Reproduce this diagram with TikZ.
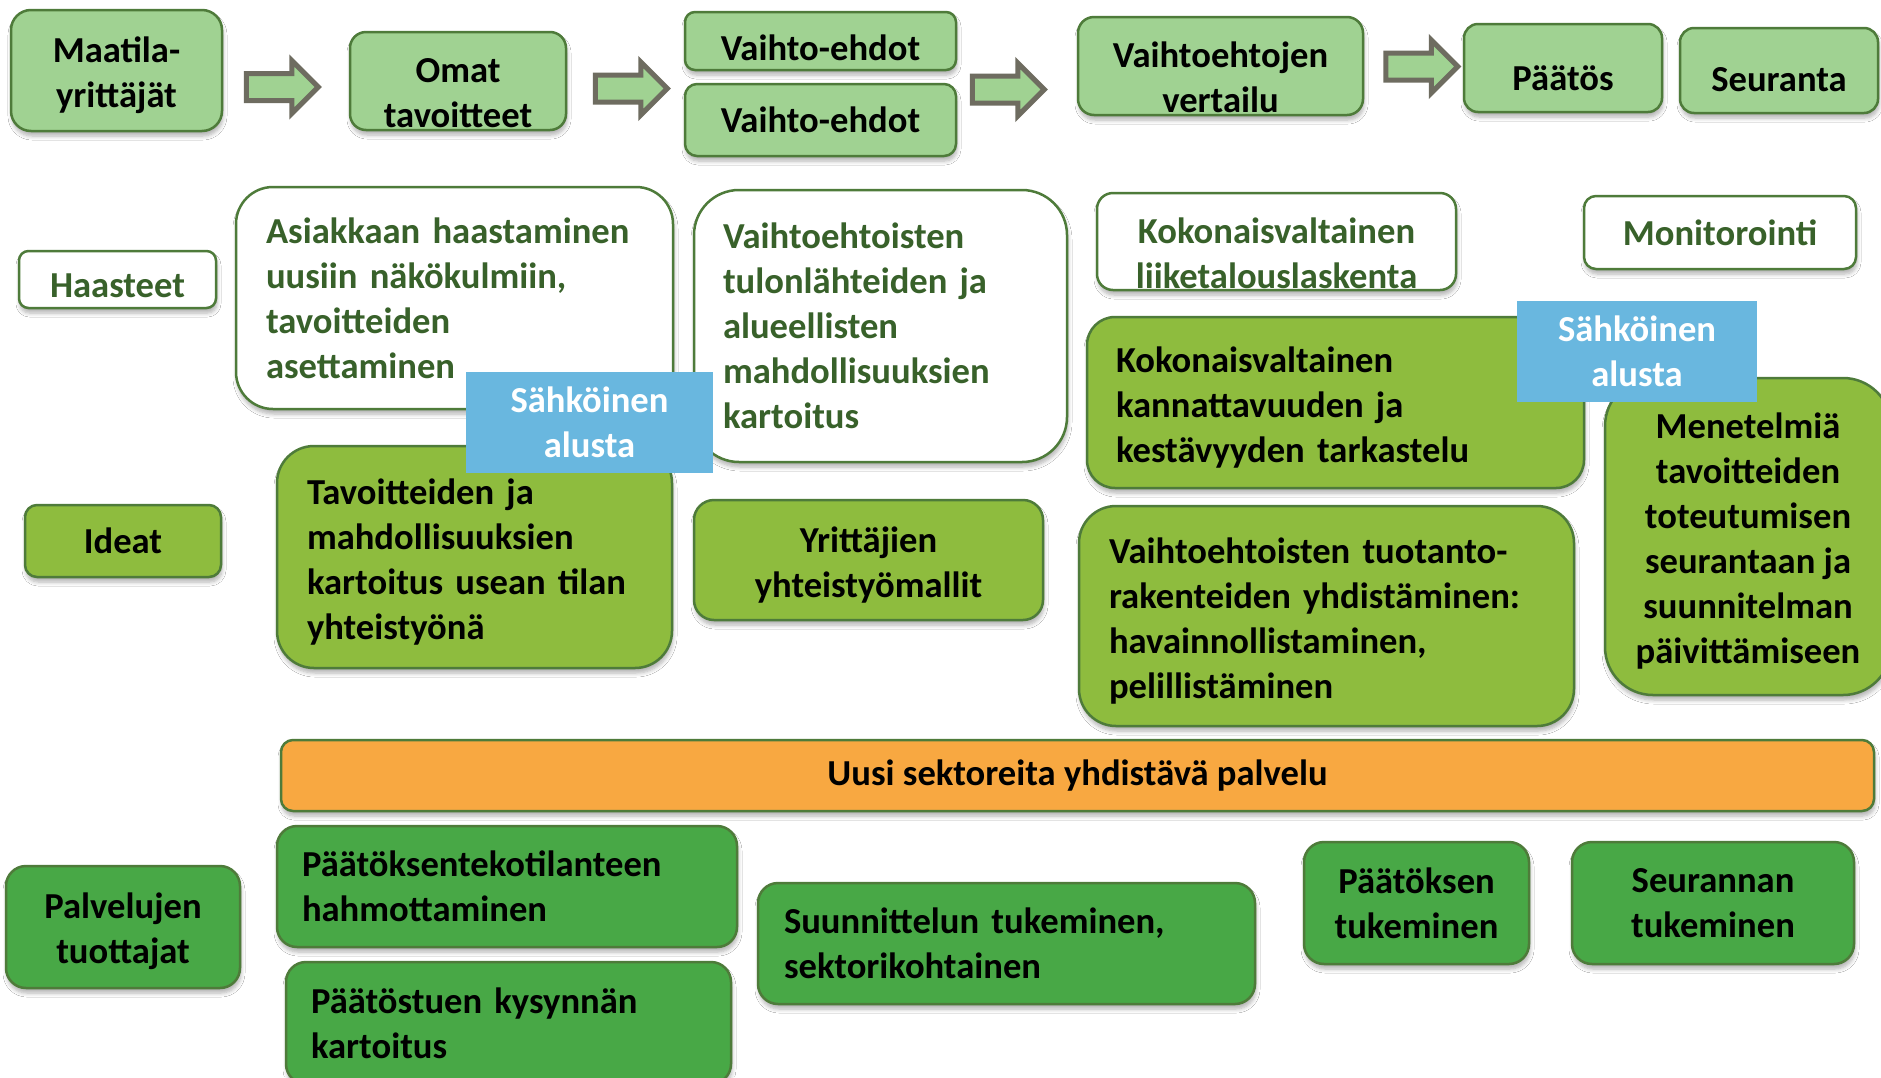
\documentclass[tikz,border=0pt]{standalone}
\usepackage{fontspec}
\setmainfont{Carlito}
\usetikzlibrary{shapes.arrows,shadows.blur}
\definecolor{lgfill}{HTML}{A0D292}
\definecolor{bord}{HTML}{4E7B3A}
\definecolor{olive}{HTML}{8EBC3E}
\definecolor{midg}{HTML}{48A846}
\definecolor{orng}{HTML}{F8A841}
\definecolor{blu}{HTML}{69B7DF}
\definecolor{dgtext}{HTML}{38612A}
\definecolor{arrbord}{HTML}{6E6C60}
\newcommand{\dn}{\rule{0pt}{35pt}}
\tikzset{
  box/.style={draw=bord, line width=2.5pt, inner sep=0pt,
    blur shadow={shadow xshift=1pt, shadow yshift=-5pt, shadow blur radius=4pt, shadow blur steps=6, shadow opacity=30}},
  lgbox/.style={box, fill=lgfill, text=black, align=center},
  wbox/.style={box, fill=white, text=dgtext},
  obox/.style={box, fill=olive, text=black},
  mbox/.style={box, fill=midg, text=black},
  lft/.style={align=left, text width=#1},
  ctr/.style={align=center},
  sbox/.style={fill=blu, text=white, align=center, inner sep=0pt},
  barrow/.style={single arrow, draw=arrbord, fill=lgfill, line width=5pt,
    inner sep=11pt, single arrow head extend=13pt, minimum height=72pt, line join=miter},
  shiftlbl/.style={align=center, yshift=-#1}
}
\begin{document}
\begin{tikzpicture}[x=1pt,y=-1pt,font=\fontsize{36.6}{45}\selectfont\bfseries]
\clip (0,0) rectangle (1881,1077);
\fill[white] (0,0) rectangle (1881,1077);

% top row
\node[lgbox, minimum width=211, minimum height=121, rounded corners=20] (maat) at (116.5,70.5) {\dn Maatila-\\yrittäjät};
\node[lgbox, minimum width=216, minimum height=98, rounded corners=16,
  label={[shiftlbl=12pt]center:Omat\\tavoitteet}] (omat) at (458,81) {};
\node[lgbox, minimum width=271, minimum height=58, rounded corners=10,
  label={[shiftlbl=7pt]center:Vaihto-ehdot}] (ve1) at (820.5,41) {};
\node[lgbox, minimum width=271, minimum height=72, rounded corners=12] (ve2) at (820.5,120) {Vaihto-ehdot};
\node[lgbox, minimum width=285, minimum height=98, rounded corners=16,
  label={[shiftlbl=11pt]center:Vaihtoehtojen\\vertailu}] (vert) at (1220.5,66) {};
\node[lgbox, minimum width=198, minimum height=88, rounded corners=14,
  label={[shiftlbl=10pt]center:Päätös}] (paat) at (1563,68) {};
\node[lgbox, minimum width=198, minimum height=85, rounded corners=14,
  label={[shiftlbl=9pt]center:Seuranta}] (seur) at (1779,70.5) {};

\node[barrow] (a1) at (275.5,87) {};
\node[barrow] (a2) at (624.5,88.5) {};
\node[barrow] (a3) at (1001.5,89.5) {};
\node[barrow] (a4) at (1415,66.5) {};

% second row
\node[wbox, align=center, minimum width=197, minimum height=57, rounded corners=9.5,
  label={[shiftlbl=6pt, text=dgtext]center:Haasteet}] (haas) at (117.5,279.5) {};
\node[wbox, lft=377pt, minimum width=437, minimum height=222, rounded corners=37] (asia) at (454.5,298)
  {Asiakkaan haastaminen\\uusiin näkökulmiin,\\tavoitteiden\\asettaminen};
\node[wbox, lft=315pt, minimum width=373, minimum height=272, rounded corners=45] (vaht) at (880.5,326)
  {Vaihtoehtoisten\\tulonlähteiden ja\\alueellisten\\mahdollisuuksien\\kartoitus};
\node[wbox, align=center, minimum width=359, minimum height=97, rounded corners=16,
  label={[shiftlbl=12pt, text=dgtext]center:Kokonaisvaltainen\\liiketalouslaskenta}] (koko) at (1276.5,241.5) {};
\node[wbox, align=center, minimum width=272, minimum height=73, rounded corners=12] (moni) at (1720,232.5) {Monitorointi};

\node[obox, lft=439pt, minimum width=497, minimum height=171, rounded corners=28] (kann) at (1335.5,402.5)
  {\dn Kokonaisvaltainen\\kannattavuuden ja\\kestävyyden tarkastelu};
\node[obox, ctr, minimum width=286, minimum height=317, rounded corners=48] (mene) at (1748,536.5)
  {\dn Menetelmiä\\tavoitteiden\\toteutumisen\\seurantaan ja\\suunnitelman\\päivittämiseen};
\node[obox, ctr, minimum width=196, minimum height=72, rounded corners=12] (idea) at (123,541) {\raisebox{-1.5pt}{Ideat}};
\node[obox, lft=335pt, minimum width=395, minimum height=222, rounded corners=37] (tavo) at (474.5,557)
  {\dn Tavoitteiden ja\\mahdollisuuksien\\kartoitus usean tilan\\yhteistyönä};
\node[obox, ctr, minimum width=349, minimum height=120, rounded corners=20] (yrit) at (868.5,560)
  {\dn Yrittäjien\\yhteistyömallit};
\node[obox, lft=435pt, minimum width=495, minimum height=220, rounded corners=37] (tuot) at (1326.5,616)
  {\dn Vaihtoehtoisten tuotanto-\\rakenteiden yhdistäminen:\\havainnollistaminen,\\pelillistäminen};

% platform labels
\node[sbox, minimum width=247, minimum height=101] (sa1) at (589.5,422.5) {Sähköinen\\alusta};
\node[sbox, minimum width=240, minimum height=101] (sa2) at (1637,351.5) {Sähköinen\\alusta};

% orange bar
\node[box, fill=orng, text=black, minimum width=1593, minimum height=71, rounded corners=12] (uusi) at (1077.5,775.5)
  {\raisebox{-4pt}{Uusi sektoreita yhdistävä palvelu}};

% bottom row
\node[mbox, ctr, minimum width=234, minimum height=122, rounded corners=20] (palv) at (123,927) {\dn Palvelujen\\tuottajat};
\node[mbox, lft=410pt, minimum width=460, minimum height=121, rounded corners=20] (ptil) at (507,886.5)
  {Päätöksentekotilanteen\\hahmottaminen};
\node[mbox, lft=395pt, minimum width=445, minimum height=122, rounded corners=20] (pkys) at (508.5,1023)
  {Päätöstuen kysynnän\\kartoitus};
\node[mbox, lft=445pt, minimum width=497, minimum height=121, rounded corners=20] (suun) at (1006.5,943.5)
  {Suunnittelun tukeminen,\\sektorikohtainen};
\node[mbox, ctr, minimum width=225, minimum height=122, rounded corners=20] (ptuk) at (1416.5,903)
  {Päätöksen\\tukeminen};
\node[mbox, ctr, minimum width=282, minimum height=122, rounded corners=20] (stuk) at (1713,903)
  {Seurannan\\tukeminen};
\end{tikzpicture}
\end{document}
